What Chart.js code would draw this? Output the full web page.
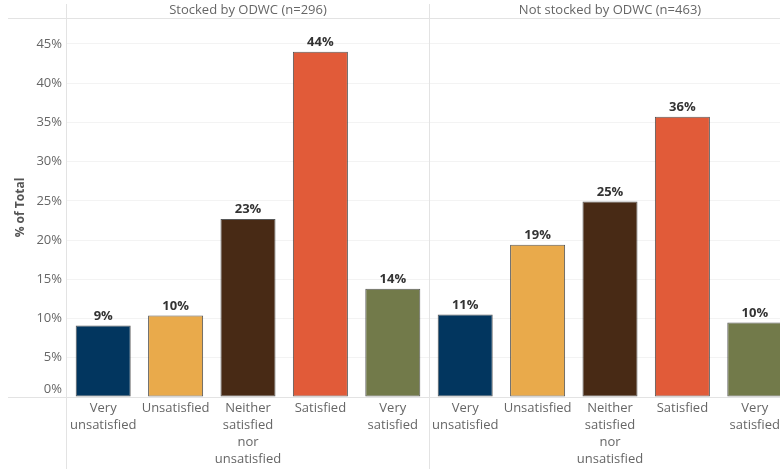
<!DOCTYPE html>
<html>
<head>
<meta charset="utf-8">
<script src="https://cdn.jsdelivr.net/npm/chart.js@4"></script>
<style>
  html, body { margin: 0; padding: 0; background: #fff; overflow: hidden; }
  #wrap { width: 780px; height: 469px; overflow: hidden; }
</style>
</head>
<body>
<div id="wrap"><canvas id="chart" width="800" height="469"></canvas></div>
<script>
// categories shown in each panel
const categories = [
    ["Very", "unsatisfied"],
    ["Unsatisfied"],
    ["Neither", "satisfied", "nor", "unsatisfied"],
    ["Satisfied"],
    ["Very", "satisfied"]
];
const panelTitles = ["Stocked by ODWC (n=296)", "Not stocked by ODWC (n=463)"];
const stockedValues = [9.1, 10.4, 22.7, 44.0, 13.8];      // % of total
const notStockedValues = [10.5, 19.4, 24.9, 35.7, 9.5];   // % of total
const yTicks = [0, 5, 10, 15, 20, 25, 30, 35, 40, 45];
const barColors = ["#02365f", "#e9aa4b", "#482a15", "#e15b39", "#727a4a"];

const FONT = "'Open Sans', Lato, sans-serif";
const lineColor = "#e3e3e3";

// lines, headers, axis title and data labels (Tableau-like decorations)
const decorations = {
    id: "decorations",
    beforeDatasetsDraw(chart) {
        const ctx = chart.ctx;
        const area = chart.chartArea;
        const x = chart.scales.x;
        const y = chart.scales.y;
        const base = y.getPixelForValue(0);
        const mid = (x.getPixelForValue(4) + x.getPixelForValue(5)) / 2;
        ctx.save();
        ctx.strokeStyle = lineColor;
        ctx.lineWidth = 1;
        ctx.beginPath();
        // header bottom line
        ctx.moveTo(8, Math.round(area.top) + 0.5);
        ctx.lineTo(chart.width, Math.round(area.top) + 0.5);
        // baseline
        ctx.moveTo(8, Math.round(base) + 0.5);
        ctx.lineTo(chart.width, Math.round(base) + 0.5);
        // axis line and panel divider
        ctx.moveTo(Math.round(area.left) - 0.5, 4);
        ctx.lineTo(Math.round(area.left) - 0.5, chart.height);
        ctx.moveTo(Math.round(mid) + 0.5, 4);
        ctx.lineTo(Math.round(mid) + 0.5, chart.height);
        ctx.stroke();

        // panel titles
        ctx.fillStyle = "#666";
        ctx.font = "13px " + FONT;
        ctx.textAlign = "center";
        ctx.textBaseline = "middle";
        ctx.fillText(panelTitles[0], (area.left + mid) / 2, 10);
        ctx.fillText(panelTitles[1], mid + (mid - area.left) / 2, 10);

        // 0% label sits a bit above the baseline
        ctx.textAlign = "right";
        ctx.fillText("0%", area.left - 5, base - 8);

        // y axis title
        ctx.translate(21, (area.top + area.bottom) / 2);
        ctx.rotate(-Math.PI / 2);
        ctx.textAlign = "center";
        ctx.fillStyle = "#555";
        ctx.font = "bold 12px " + FONT;
        ctx.fillText("% of Total", 0, 0);
        ctx.restore();
    },
    afterDatasetsDraw(chart) {
        const ctx = chart.ctx;
        const meta = chart.getDatasetMeta(0);
        const values = chart.data.datasets[0].data;
        ctx.save();
        ctx.fillStyle = "#333";
        ctx.font = "bold 13px " + FONT;
        ctx.textAlign = "center";
        ctx.textBaseline = "bottom";
        meta.data.forEach((bar, i) => {
            ctx.fillText(Math.round(values[i]) + "%", bar.x, bar.y - 3);
        });
        ctx.restore();
    }
};

new Chart(document.getElementById("chart"), {
    type: "bar",
    data: {
        labels: categories.concat(categories),
        datasets: [{
            data: stockedValues.concat(notStockedValues),
            backgroundColor: barColors.concat(barColors),
            borderColor: "rgba(45, 45, 45, 0.8)",
            borderWidth: 1,
            borderSkipped: false,
            barPercentage: 0.76,
            categoryPercentage: 1
        }]
    },
    options: {
        responsive: false,
        animation: false,
        layout: { padding: { top: 18, right: 9, left: 0, bottom: 0 } },
        plugins: {
            legend: { display: false },
            tooltip: { enabled: false }
        },
        scales: {
            x: {
                grid: { display: false, drawTicks: false },
                border: { display: false },
                ticks: {
                    color: "#666",
                    font: { family: FONT, size: 13, lineHeight: 1.3 },
                    maxRotation: 0,
                    autoSkip: false,
                    padding: 3
                },
                afterFit(scale) { scale.height = 72; }
            },
            y: {
                min: 0,
                max: 48.3,
                border: { display: false },
                grid: {
                    drawTicks: false,
                    color: ctx => ctx.tick && ctx.tick.value === 0 ? "rgba(0,0,0,0)" : "#f3f3f3"
                },
                ticks: {
                    color: "#666",
                    font: { family: FONT, size: 13 },
                    padding: 5,
                    callback: v => v === 0 ? "" : v + "%"
                },
                afterBuildTicks(scale) {
                    scale.ticks = yTicks.map(v => ({ value: v }));
                },
                afterFit(scale) { scale.width = 67; }
            }
        }
    },
    plugins: [decorations]
});
</script>
</body>
</html>
